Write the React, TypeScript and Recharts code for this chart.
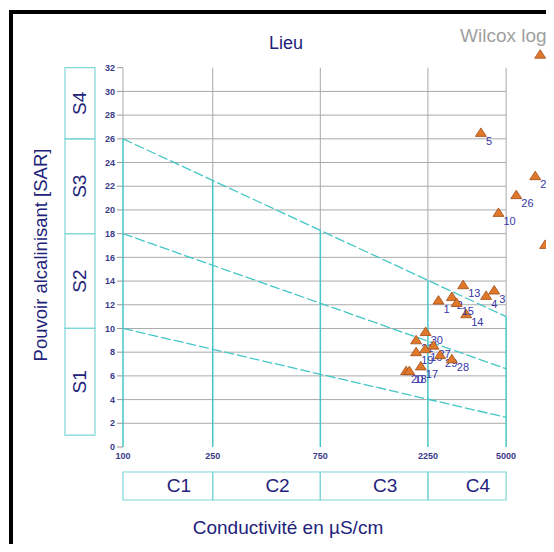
import React from 'react';
import { ScatterChart, Scatter, XAxis, YAxis, ReferenceLine, ReferenceArea, Customized } from 'recharts';

// ---- data ----
const sampleIds = ['1', '2', '3', '4', '13', '14', '15', '5', '10', '26', '25', '22', '11', '12', '6', '30', '21', '27', '16', '19', '29', '28', '20', '18', '17'];
const conductivity = [2506, 2873, 4427, 4077, 3224, 3325, 3017, 3865, 4625, 5546, 6733, 7447, 7080, 7980, 8020, 2198, 1995, 2381, 2188, 1995, 2548, 2873, 1801, 1862, 2093];
const sar = [12.35, 12.65, 13.2, 12.75, 13.65, 11.2, 12.15, 26.5, 19.75, 21.25, 22.85, 17.05, 33.1, 33.2, 31.5, 9.7, 9.0, 8.55, 8.25, 8.0, 7.75, 7.4, 6.4, 6.4, 6.8];

const ecTicks = [100, 250, 750, 2250, 5000];
const ecClasses = ['C1', 'C2', 'C3', 'C4'];
const sarTicks = [0, 2, 4, 6, 8, 10, 12, 14, 16, 18, 20, 22, 24, 26, 28, 30, 32];
const gridSar = [2, 4, 6, 8, 10, 12, 14, 16, 18, 20, 22, 24, 26, 28, 30];
const sarClasses = ['S1', 'S2', 'S3', 'S4'];
const sarClassBounds = [1, 10, 18, 26, 32];
const boundaryAtMin = [10, 18, 26];
const boundaryAtMax = [2.5, 6.6, 11];

const points = sampleIds.map((id, i) => ({ id, x: conductivity[i], y: sar[i] }));

const CYAN = '#45c6c6';
const BOX = '#7fd6d6';
const GRID = '#aaaaaa';
const NAVY = '#22227a';
const TICK = '#3a3a8a';
const FONT = '"Liberation Sans", Arial, sans-serif';

const EC_MIN = ecTicks[0];
const EC_MAX = ecTicks[ecTicks.length - 1];
const topBoundaryAt = (ec: number) => {
  const t = Math.log10(ec / EC_MIN) / Math.log10(EC_MAX / EC_MIN);
  const a = boundaryAtMin[boundaryAtMin.length - 1];
  const b = boundaryAtMax[boundaryAtMax.length - 1];
  return a + (b - a) * t;
};

const Triangle = (props: any) => {
  const { cx, cy, payload } = props;
  if (cx == null || cy == null) return null;
  return (
    <g>
      <path
        d={`M${cx},${cy - 5} L${cx + 5.5},${cy + 3.5} L${cx - 5.5},${cy + 3.5} Z`}
        fill="#e0782a"
        stroke="#a04c18"
        strokeWidth={0.8}
      />
      <text x={cx + 5} y={cy + 12} fontSize={11} fill="#3636a8" fontFamily={FONT}>
        {payload.id}
      </text>
    </g>
  );
};

const boxLabel = (text: string, rotate: boolean, dx: number, size: number) => (props: any) => {
  const vb = props.viewBox || {};
  const cx = vb.x + vb.width / 2 + dx;
  const cy = vb.y + vb.height / 2;
  return (
    <text
      x={cx}
      y={cy}
      textAnchor="middle"
      dominantBaseline="central"
      fontSize={size}
      fill={NAVY}
      fontFamily={FONT}
      transform={rotate ? `rotate(-90 ${cx} ${cy})` : undefined}
    >
      {text}
    </text>
  );
};

const Titles = () => (
  <g fontFamily={FONT}>
    <text x={278} y={41} textAnchor="middle" fontSize={18} fill={NAVY}>Lieu</text>
    <text x={452} y={34} fontSize={19} fill="#a0a0a0">Wilcox log</text>
    <text x={32} y={247} textAnchor="middle" dominantBaseline="central" fontSize={18.5} fill={NAVY} transform="rotate(-90 32 247)">
      Pouvoir alcalinisant [SAR]
    </text>
    <text x={280} y={519} textAnchor="middle" dominantBaseline="central" fontSize={19} fill={NAVY}>
      Conductivité en µS/cm
    </text>
  </g>
);

export default function App() {
  return (
    <div style={{ position: 'relative', width: 546, height: 544, marginBottom: -8, overflow: 'hidden', background: '#fff' }}>
      <div
        style={{
          position: 'absolute',
          left: 1,
          top: 2,
          width: 700,
          height: 700,
          borderLeft: '4px solid #000',
          borderTop: '4px solid #000',
          boxSizing: 'border-box',
        }}
      />
      <div style={{ position: 'absolute', left: 0, top: 0 }}>
        <ScatterChart width={620} height={544} margin={{ top: 36, right: 54, bottom: 0, left: 0 }}>
          <XAxis
            dataKey="x"
            type="number"
            scale="log"
            domain={[100, 10000]}
            ticks={ecTicks}
            axisLine={false}
            tickLine={false}
            tickMargin={0}
            height={105}
            interval={0}
            tick={{ fontSize: 9, fill: TICK, fontFamily: FONT, fontWeight: 'bold' }}
          />
          <YAxis
            dataKey="y"
            type="number"
            domain={[0, 34]}
            ticks={sarTicks}
            axisLine={false}
            tickLine={{ stroke: '#999' }}
            tickSize={6}
            tickMargin={2}
            width={115}
            interval={0}
            tick={{ fontSize: 9, fill: TICK, fontFamily: FONT, fontWeight: 'bold' }}
          />
          {gridSar.map((v) => (
            <ReferenceLine
              key={`h${v}`}
              segment={[{ x: EC_MIN, y: v }, { x: EC_MAX, y: v }]}
              stroke={GRID}
              strokeWidth={1}
              ifOverflow="visible"
            />
          ))}
          {ecTicks.map((v) => (
            <ReferenceLine
              key={`vg${v}`}
              segment={[{ x: v, y: topBoundaryAt(v) }, { x: v, y: 32 }]}
              stroke={GRID}
              strokeWidth={1}
              ifOverflow="visible"
            />
          ))}
          {ecTicks.map((v) => (
            <ReferenceLine
              key={`vc${v}`}
              segment={[{ x: v, y: 0 }, { x: v, y: topBoundaryAt(v) }]}
              stroke={CYAN}
              strokeWidth={1.5}
              ifOverflow="visible"
            />
          ))}
          {boundaryAtMin.map((v, i) => (
            <ReferenceLine
              key={`d${i}`}
              segment={[{ x: EC_MIN, y: v }, { x: EC_MAX, y: boundaryAtMax[i] }]}
              stroke={CYAN}
              strokeWidth={1.3}
              strokeDasharray="10 3"
              ifOverflow="visible"
            />
          ))}
          {sarClasses.map((s, i) => (
            <ReferenceArea
              key={s}
              x1={55.3}
              x2={75.1}
              y1={sarClassBounds[i]}
              y2={sarClassBounds[i + 1]}
              fill="none"
              stroke={BOX}
              strokeWidth={1.2}
              ifOverflow="visible"
              label={boxLabel(s, true, 0, 19)}
            />
          ))}
          {ecClasses.map((c, i) => (
            <ReferenceArea
              key={c}
              x1={ecTicks[i]}
              x2={ecTicks[i + 1]}
              y1={-4.47}
              y2={-2.11}
              fill="none"
              stroke={BOX}
              strokeWidth={1.2}
              ifOverflow="visible"
              label={boxLabel(c, false, 11, 19)}
            />
          ))}
          <Scatter data={points} shape={<Triangle />} isAnimationActive={false} />
          <Customized component={Titles} />
        </ScatterChart>
      </div>
    </div>
  );
}
